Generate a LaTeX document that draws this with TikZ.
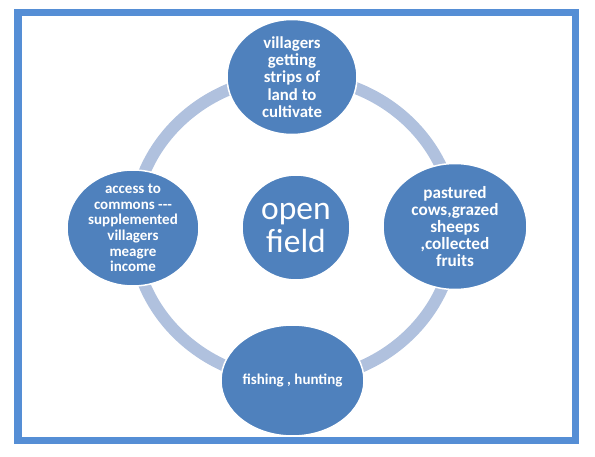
\documentclass[tikz,border=0pt]{standalone}
\usepackage{fontspec}
\setmainfont{Carlito}
\usetikzlibrary{shapes.geometric}
\definecolor{DiscBlue}{HTML}{4F81BD}
\definecolor{RingBlue}{HTML}{B0C1DE}
\definecolor{FrameBlue}{HTML}{558ED5}

\begin{document}
\begin{tikzpicture}[x=1pt, y=-1pt,
  disc/.style={ellipse, draw=white, line width=1.5pt, fill=DiscBlue, inner sep=0pt},
  txt/.style={text=white, align=center, inner sep=0pt},
  ring/.style={draw=RingBlue, line width=12pt},
  frame/.style={draw=FrameBlue, line width=7.5pt}
]
\useasboundingbox (0,0) rectangle (595,457);
\draw[frame] (17.75,12.5) rectangle (575.25,440.5);
% cycle ring behind the discs
\coordinate (hub) at (294,228.5);
\draw[ring] (hub) ellipse [x radius=161pt, y radius=152pt];
% outer discs
\node[disc, minimum width=130pt, minimum height=115pt] (land) at (292,77) {};
\node[disc, minimum width=144pt, minimum height=126pt] (pasture) at (455,226.5) {};
\node[disc, minimum width=143pt, minimum height=111pt] (fish) at (292.5,380.5) {};
\node[disc, minimum width=132pt, minimum height=116pt] (commons) at (133,228) {};
% centre disc
\node[disc, minimum width=108pt, minimum height=105pt] (field) at (296,227.5) {};
% labels
\node[txt, font=\fontsize{16.8}{17.4}\selectfont\bfseries] (landtext) at (land) {villagers\\getting\\strips of\\land to\\cultivate};
\node[txt, font=\fontsize{17.2}{17.2}\selectfont\bfseries] (pasturetext) at (pasture) {pastured\\cows,grazed\\sheeps\\,collected\\fruits};
\node[txt, font=\fontsize{15}{17}\selectfont\bfseries] (fishtext) at (fish) {fishing , hunting};
\node[txt, font=\fontsize{15}{15.6}\selectfont\bfseries] (commonstext) at (commons) {access to\\commons -{}-{}-\\supplemented\\villagers\\meagre\\income};
\node[txt, font=\fontsize{33.5}{33}\selectfont] (fieldtext) at (field) {open\\field};
\end{tikzpicture}
\end{document}
